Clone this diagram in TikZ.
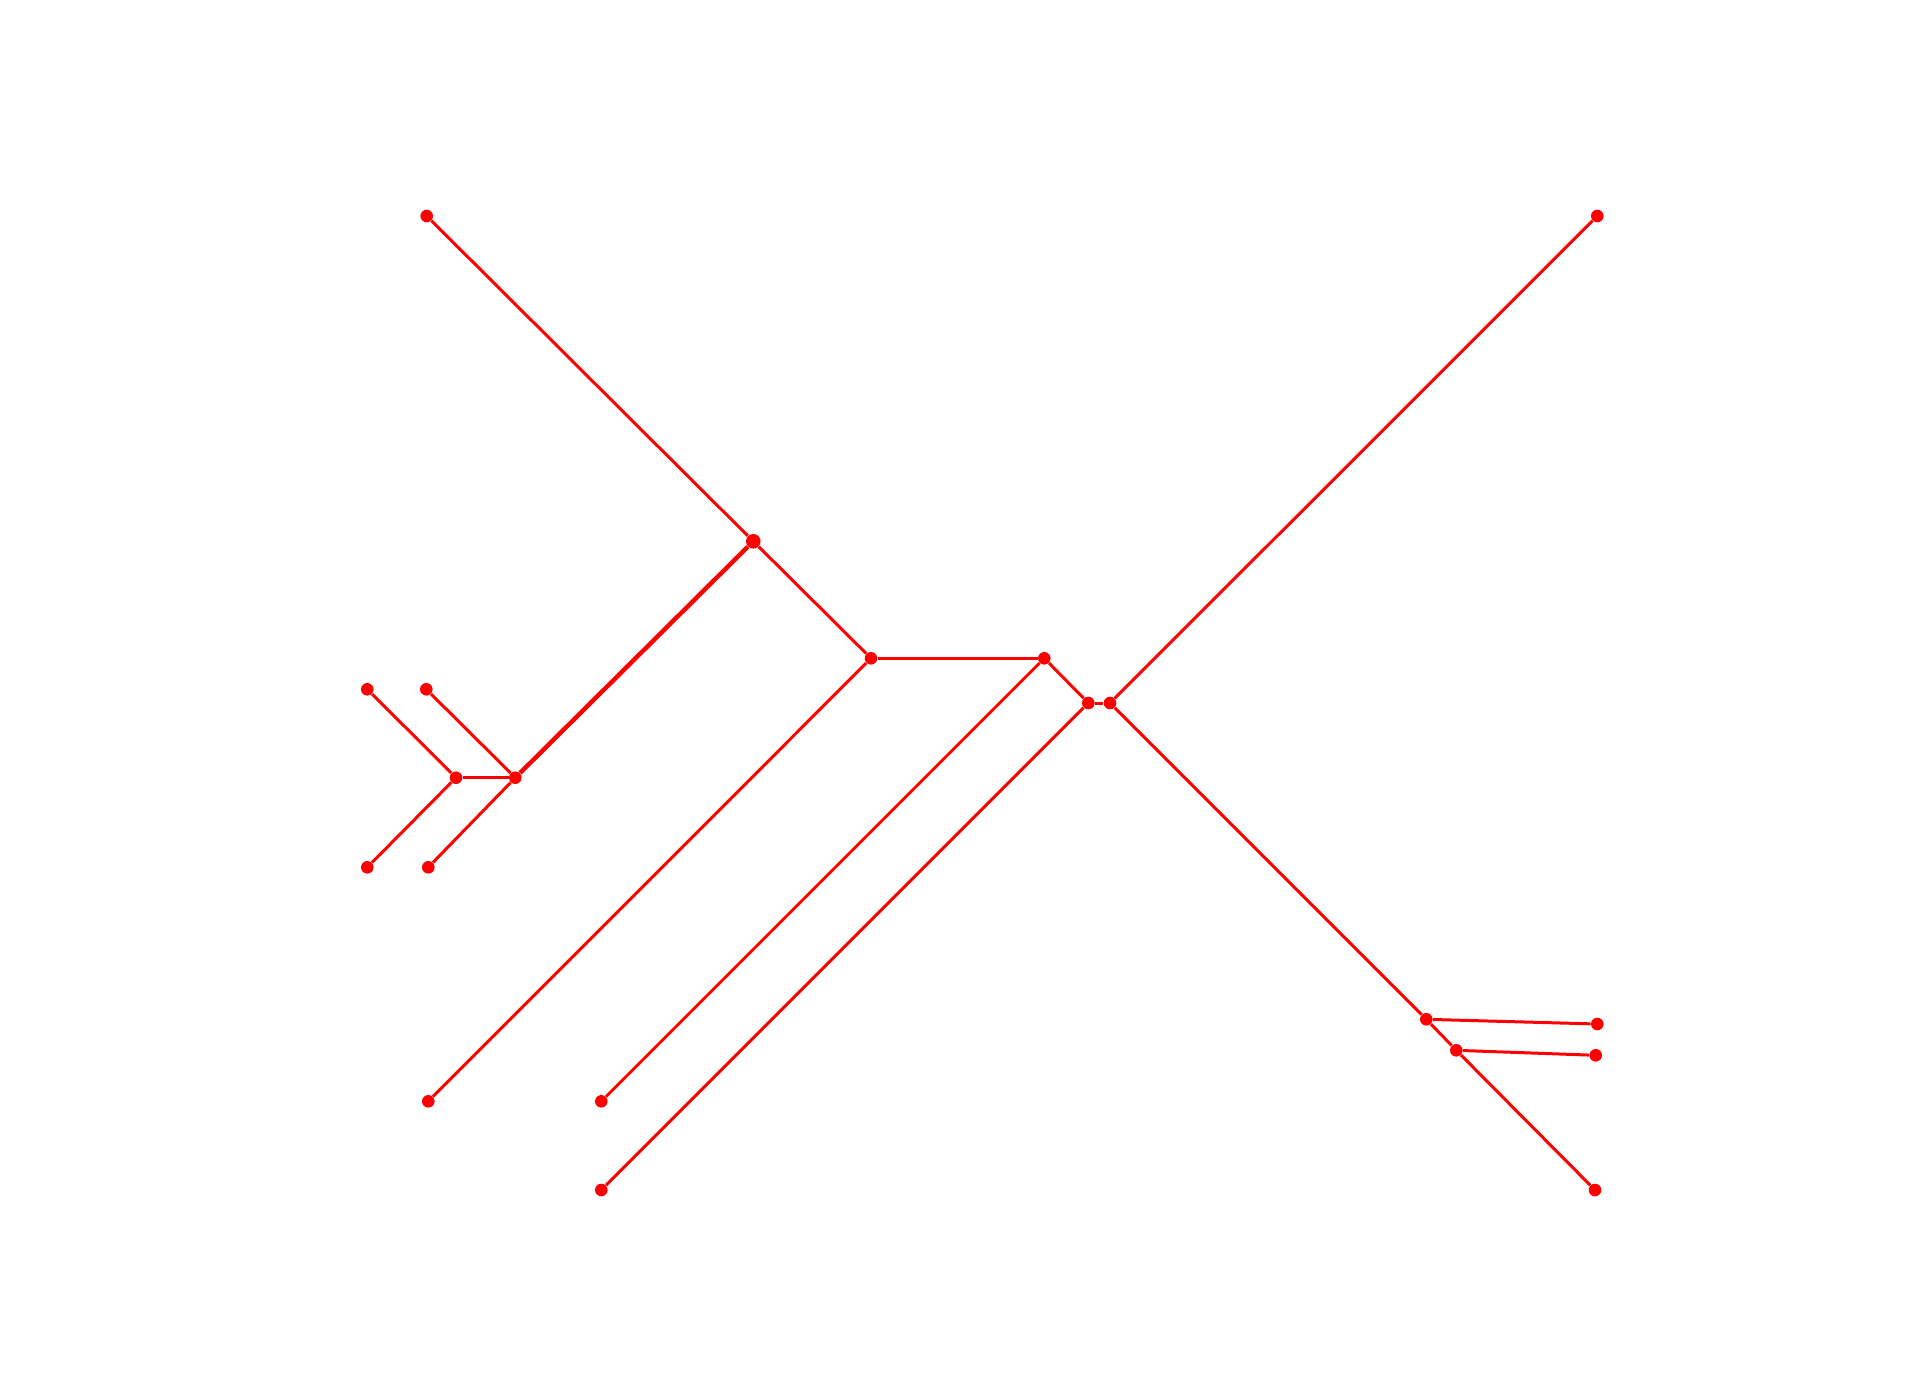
\documentclass[tikz,border=0pt]{standalone}
\begin{document}
\begin{tikzpicture}[x=0.5pt,y=-0.5pt,
  dot/.style={circle,fill=red,inner sep=0pt,minimum size=6.3pt},
  edge/.style={draw=red,line width=1.5pt}]
\useasboundingbox (0,0) rectangle (1916,1392);
\node[dot] (tl) at (426.7,216) {};
\node[dot] (tr) at (1597.3,216) {};
\node[dot,minimum size=7.3pt] (A) at (753.3,541.3) {};
\node[dot] (B) at (871,658.3) {};
\node[dot] (C) at (1044.3,658.3) {};
\node[dot] (D) at (1088.3,703) {};
\node[dot] (E) at (1110,703) {};
\node[dot] (F) at (1426.3,1019.3) {};
\node[dot] (G) at (1456.3,1050.3) {};
\node[dot] (Fl) at (1597.3,1024) {};
\node[dot] (Gl) at (1595.7,1055.3) {};
\node[dot] (br) at (1595,1190) {};
\node[dot] (Bl) at (428.3,1101.3) {};
\node[dot] (Cl) at (601.3,1101.3) {};
\node[dot] (Dl) at (601.3,1190) {};
\node[dot] (I) at (456,777.7) {};
\node[dot] (O) at (515.3,777.7) {};
\node[dot] (I1) at (367.3,689.3) {};
\node[dot] (I2) at (367.3,867.3) {};
\node[dot] (O1) at (426.3,689.3) {};
\node[dot] (O2) at (428.3,867.3) {};
\draw[edge] (tl) -- (A);
\draw[edge,line width=2.2pt] (A) -- (O);
\draw[edge] (A) -- (B);
\draw[edge] (B) -- (C);
\draw[edge] (B) -- (Bl);
\draw[edge] (C) -- (Cl);
\draw[edge] (C) -- (D);
\draw[edge] (D) -- (E);
\draw[edge] (D) -- (Dl);
\draw[edge] (E) -- (tr);
\draw[edge] (E) -- (F);
\draw[edge] (F) -- (G);
\draw[edge] (G) -- (br);
\draw[edge] (F) -- (Fl);
\draw[edge] (G) -- (Gl);
\draw[edge] (O) -- (I);
\draw[edge] (I) -- (I1);
\draw[edge] (I) -- (I2);
\draw[edge] (O) -- (O1);
\draw[edge] (O) -- (O2);
\end{tikzpicture}
\end{document}
